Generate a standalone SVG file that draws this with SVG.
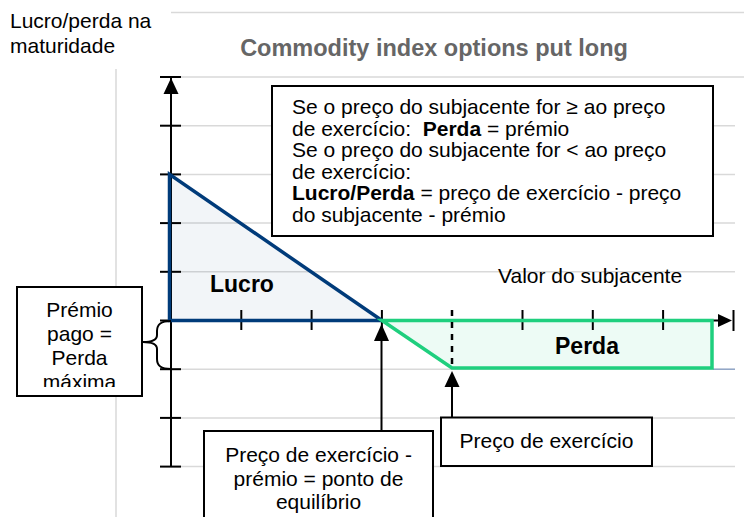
<svg xmlns="http://www.w3.org/2000/svg" width="744" height="517" viewBox="0 0 744 517">
<style>
text{font-family:"Liberation Sans",Arial,sans-serif;font-size:21px;fill:#000}
.b{font-weight:bold}
.grid{stroke:#d9d9d9;stroke-width:1.5;fill:none}
.ax{stroke:#000;stroke-width:2;fill:none}
.box{fill:#fff;stroke:#000;stroke-width:2}
.ah{fill:#000;stroke:none}
</style>
<defs>
<clipPath id="clipLeft"><rect x="17" y="287" width="125" height="100"/></clipPath>
</defs>
<rect width="744" height="517" fill="#fff"/>
<g id="background-grid">
<line class="grid" x1="171" y1="12.5" x2="744" y2="12.5"/>
<line class="grid" x1="116" y1="69" x2="116" y2="517"/>
<line class="grid" x1="180" y1="77" x2="744" y2="77"/>
<line class="grid" x1="171" y1="125.7" x2="735" y2="125.7"/>
<line class="grid" x1="171" y1="174.4" x2="735" y2="174.4"/>
<line class="grid" x1="171" y1="223.1" x2="735" y2="223.1"/>
<line class="grid" x1="171" y1="271.8" x2="735" y2="271.8"/>
<line class="grid" x1="171" y1="369.2" x2="713" y2="369.2"/>
<line x1="713" y1="369.2" x2="735" y2="369.2" stroke="#8ea3c4" stroke-width="1.5"/>
<line class="grid" x1="171" y1="417.9" x2="735" y2="417.9"/>
<line class="grid" x1="171" y1="466.6" x2="735" y2="466.6"/>
</g>
<g id="title">
<text x="10" y="28">Lucro/perda na</text>
<text x="10" y="53">maturidade</text>
<text x="434" y="56" text-anchor="middle" class="b" style="font-size:23.5px;fill:#666">Commodity index options put long</text>
</g>
<g id="profit-area">
<path d="M169.5,174.4 L169.5,320.5 L382,320.5 Z" fill="#003b7a" fill-opacity="0.05" stroke="none"/>
</g>
<g id="loss-area">
<path d="M382,320.5 L712,320.5 L712,368 L452,368 Z" fill="#1fcf7e" fill-opacity="0.08" stroke="none"/>
</g>
<g id="axes">
<line class="ax" x1="171" y1="77" x2="171" y2="466.6"/>
<line class="ax" x1="160" y1="77" x2="181" y2="77"/>
<path class="ah" d="M171,78 L178.5,94 L163.5,94 Z"/>
<line class="ax" x1="171" y1="320.5" x2="719" y2="320.5"/>
<path class="ah" d="M732,320.5 L718,314 L718,327 Z"/>
<line class="ax" x1="733.5" y1="310" x2="733.5" y2="331"/>
<g id="y-ticks">
<line class="ax" x1="160" y1="125.7" x2="181" y2="125.7"/>
<line class="ax" x1="160" y1="174.4" x2="181" y2="174.4"/>
<line class="ax" x1="160" y1="223.1" x2="181" y2="223.1"/>
<line class="ax" x1="160" y1="271.8" x2="181" y2="271.8"/>
<line class="ax" x1="160" y1="320.5" x2="181" y2="320.5"/>
<line class="ax" x1="160" y1="369.2" x2="181" y2="369.2"/>
<line class="ax" x1="160" y1="417.9" x2="181" y2="417.9"/>
<line class="ax" x1="160" y1="466.6" x2="181" y2="466.6"/>
</g>
<g id="x-ticks">
<line class="ax" x1="241.3" y1="310" x2="241.3" y2="330"/>
<line class="ax" x1="311.6" y1="310" x2="311.6" y2="330"/>
<line class="ax" x1="381.9" y1="310" x2="381.9" y2="330"/>
<line class="ax" x1="522.5" y1="310" x2="522.5" y2="330"/>
<line class="ax" x1="592.8" y1="310" x2="592.8" y2="330"/>
<line class="ax" x1="663.1" y1="310" x2="663.1" y2="330"/>
</g>
</g>
<g id="profit-line">
<path d="M169.5,174.4 L169.5,320.5 L382,320.5 Z" fill="none" stroke="#003b7a" stroke-width="3.5" stroke-linejoin="miter"/>
</g>
<g id="loss-line">
<path d="M382,320.5 L712,320.5 L712,368 L452,368 Z" fill="none" stroke="#1fcf7e" stroke-width="3.5"/>
</g>
<g id="strike-dash">
<line x1="452" y1="310" x2="452" y2="370" stroke="#000" stroke-width="2.5" stroke-dasharray="6,6"/>
</g>
<g id="labels">
<text x="210" y="292" class="b" style="font-size:23px">Lucro</text>
<text x="555" y="354" class="b" style="font-size:23px">Perda</text>
<text x="498" y="283">Valor do subjacente</text>
</g>
<g id="connectors">
<line class="ax" x1="381.5" y1="340" x2="381.5" y2="431"/>
<path class="ah" d="M381.5,324 L389,341 L374,341 Z"/>
<line class="ax" x1="452" y1="385" x2="452" y2="418"/>
<path class="ah" d="M452,371 L459.5,387 L444.5,387 Z"/>
<path d="M171,321 C161,321 157,324 157,331 L157,335 C157,339 153,342 143,342 C153,342 157,345 157,349 L157,359 C157,366 161,369 171,369" fill="none" stroke="#000" stroke-width="2"/>
</g>
<g id="node-info">
<rect class="box" x="272" y="86" width="441" height="150"/>
<text x="292" y="114">Se o preço do subjacente for ≥ ao preço</text>
<text x="292" y="135.6" xml:space="preserve">de exercício:  <tspan class="b">Perda</tspan> = prémio</text>
<text x="292" y="157.2">Se o preço do subjacente for &lt; ao preço</text>
<text x="292" y="178.8">de exercício:</text>
<text x="292" y="200.4"><tspan class="b">Lucro/Perda</tspan> = preço de exercício - preço</text>
<text x="292" y="222">do subjacente - prémio</text>
</g>
<g id="node-premium">
<rect class="box" x="17" y="287" width="125" height="109"/>
<g clip-path="url(#clipLeft)">
<text x="79.5" y="317" text-anchor="middle">Prémio</text>
<text x="79.5" y="341" text-anchor="middle">pago =</text>
<text x="79.5" y="365" text-anchor="middle">Perda</text>
<text x="79.5" y="389" text-anchor="middle">máxima</text>
</g>
</g>
<g id="node-breakeven">
<rect class="box" x="204" y="431" width="229" height="100"/>
<text x="318.5" y="462" text-anchor="middle">Preço de exercício -</text>
<text x="318.5" y="486" text-anchor="middle">prémio = ponto de</text>
<text x="318.5" y="509" text-anchor="middle">equilíbrio</text>
</g>
<g id="node-strike">
<rect class="box" x="441" y="417.5" width="211" height="48.5"/>
<text x="546.5" y="448" text-anchor="middle">Preço de exercício</text>
</g>
</svg>
